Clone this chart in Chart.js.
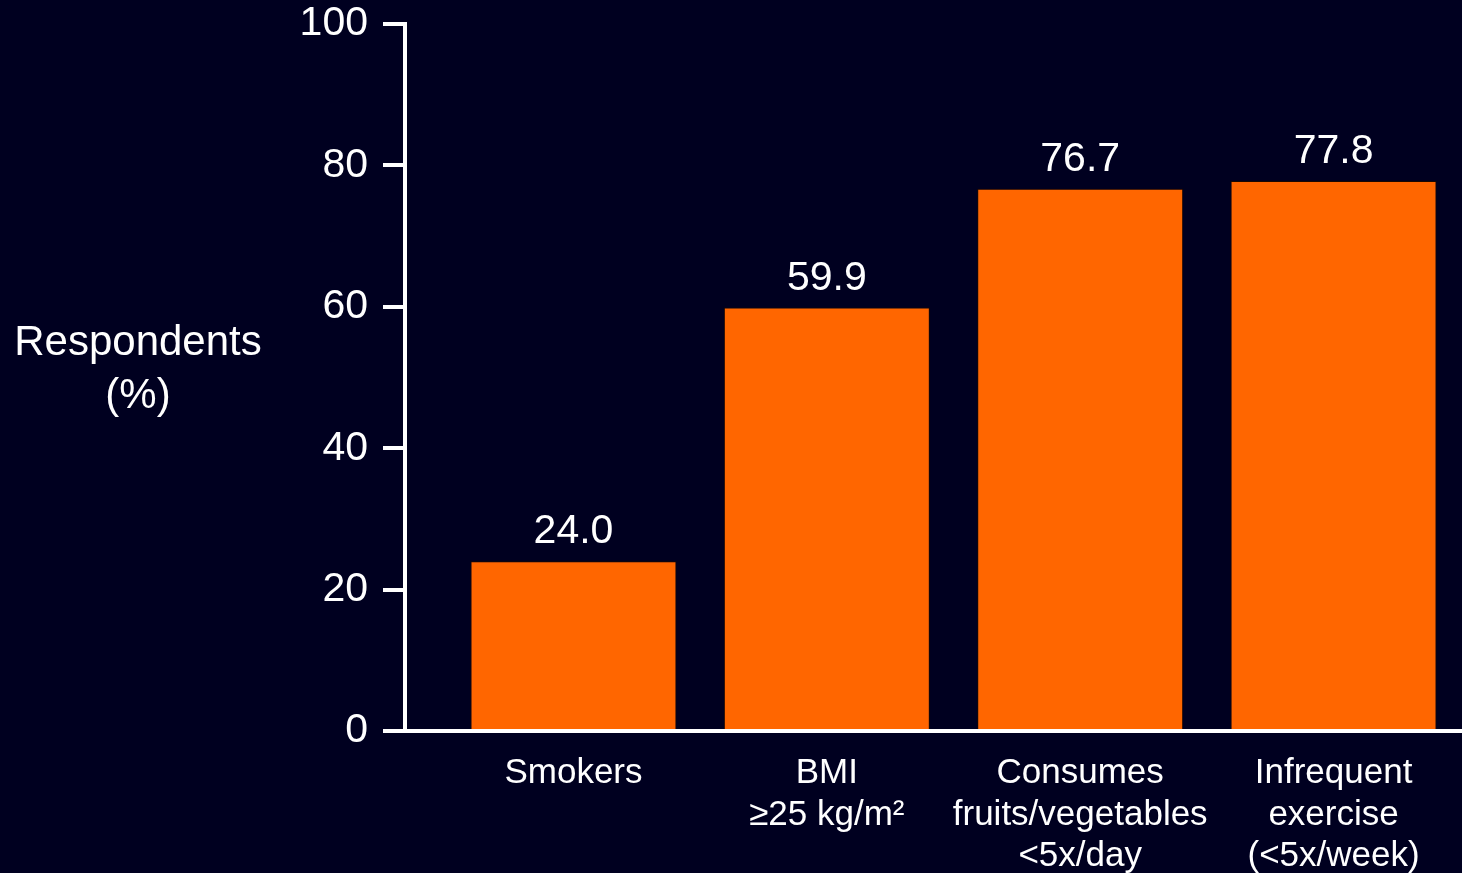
<!DOCTYPE html>
<html>
<head>
<meta charset="utf-8">
<title>Respondents (%)</title>
<script src="https://cdn.jsdelivr.net/npm/chart.js@4/dist/chart.umd.min.js"></script>
<style>
  html, body { margin: 0; padding: 0; background: #000020; }
  #wrap { width: 1462px; height: 873px; }
</style>
</head>
<body>
<div id="wrap"><canvas id="chart" width="1462" height="873"></canvas></div>
<script>
// Category labels (multi-line) and percentages
const categories = [
  ['Smokers'],
  ['BMI', '\u226525 kg/m\u00B2'],
  ['Consumes', 'fruits/vegetables', '<5x/day'],
  ['Infrequent', 'exercise', '(<5x/week)']
];
const respondents = [24.0, 59.9, 76.7, 77.8];
const yTicks = [0, 20, 40, 60, 80, 100];
const yTitle = ['Respondents', '(%)'];

const FONT = '"Liberation Sans", Arial, Helvetica, sans-serif';
const WHITE = '#ffffff';
const BG = '#000020';

const points = respondents.map((v, i) => ({ x: i, y: v }));

// Paints the page background behind everything
const background = {
  id: 'background',
  beforeDraw(chart) {
    const { ctx, width, height } = chart;
    ctx.save();
    ctx.fillStyle = BG;
    ctx.fillRect(0, 0, width, height);
    ctx.restore();
  }
};

// Horizontal y-axis title to the left of the tick labels
const sideTitle = {
  id: 'sideTitle',
  afterDraw(chart) {
    const { ctx, chartArea } = chart;
    const mid = (chartArea.top + chartArea.bottom) / 2 - 8;
    ctx.save();
    ctx.fillStyle = WHITE;
    ctx.font = '42px ' + FONT;
    ctx.textAlign = 'center';
    ctx.textBaseline = 'middle';
    const gap = 53;
    yTitle.forEach((line, i) => {
      ctx.fillText(line, 138, mid + (i - (yTitle.length - 1) / 2) * gap);
    });
    ctx.restore();
  }
};

// Value labels above each bar
const valueLabels = {
  id: 'valueLabels',
  afterDatasetsDraw(chart) {
    const { ctx } = chart;
    const meta = chart.getDatasetMeta(0);
    ctx.save();
    ctx.fillStyle = WHITE;
    ctx.font = '41px ' + FONT;
    ctx.textAlign = 'center';
    ctx.textBaseline = 'alphabetic';
    meta.data.forEach((bar, i) => {
      ctx.fillText(respondents[i].toFixed(1), bar.x, bar.y - 18);
    });
    ctx.restore();
  }
};

new Chart(document.getElementById('chart'), {
  type: 'bar',
  data: {
    datasets: [{
      data: points,
      backgroundColor: '#ff6600',
      borderColor: '#1a0800',
      borderWidth: 1,
      borderSkipped: 'bottom',
      categoryPercentage: 1,
      barPercentage: 0.813
    }]
  },
  options: {
    responsive: false,
    animation: false,
    events: [],
    layout: { padding: { top: 24, right: 0, left: 0, bottom: 0 } },
    plugins: {
      legend: { display: false },
      tooltip: { enabled: false }
    },
    scales: {
      x: {
        type: 'linear',
        offset: false,
        bounds: 'ticks',
        min: -0.665,
        max: 3.507,
        afterBuildTicks(scale) {
          scale.ticks = categories.map((_, i) => ({ value: i }));
        },
        afterFit(scale) { scale.height = 142; },
        grid: { display: false, drawTicks: false, offset: false },
        border: { display: true, color: WHITE, width: 4 },
        ticks: {
          color: WHITE,
          font: { family: FONT, size: 35, lineHeight: 1.18 },
          padding: 22,
          maxRotation: 0,
          autoSkip: false,
          callback: (v) => categories[v] || ''
        }
      },
      y: {
        min: 0,
        max: 100,
        afterBuildTicks(scale) {
          scale.ticks = yTicks.map(v => ({ value: v }));
        },
        afterFit(scale) {
          scale.width = 405;
          scale.paddingTop = 0;
          scale.paddingBottom = 0;
        },
        grid: {
          drawOnChartArea: false,
          drawTicks: true,
          tickLength: 22,
          color: WHITE,
          lineWidth: 4
        },
        border: { display: true, color: WHITE, width: 4 },
        ticks: {
          color: WHITE,
          font: { family: FONT, size: 41 },
          padding: 15
        }
      }
    }
  },
  plugins: [background, sideTitle, valueLabels]
});
</script>
</body>
</html>
